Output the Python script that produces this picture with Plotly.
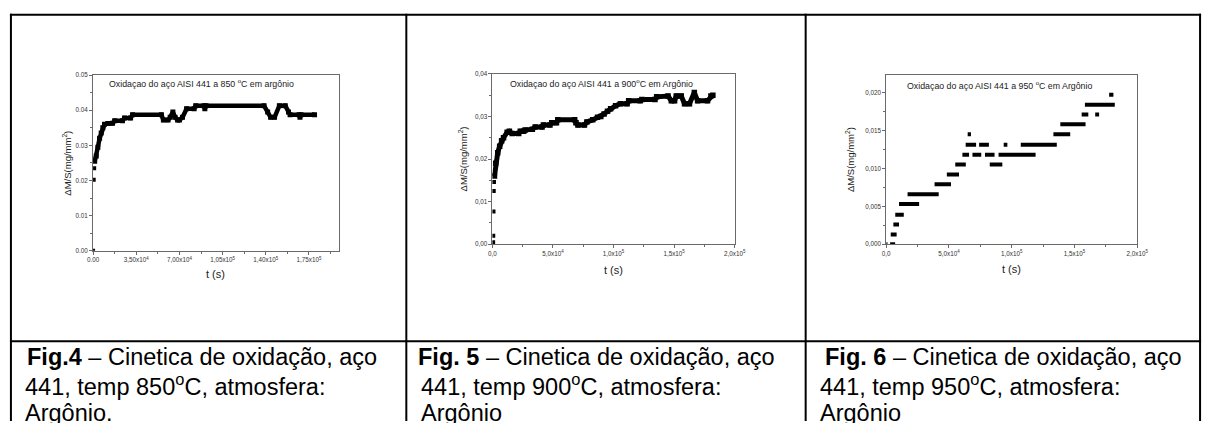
import plotly.graph_objects as go

W, H = 1216, 423

# ---------------- data ----------------
# Fig.4  850 C
t1_start = [0, 500, 900]
v1_start = [0.0, 0.0202, 0.0235]
t1 = [1300, 2600, 3900, 5300, 6600, 7900, 9300, 12000, 15800, 17500, 23800, 25500, 30400,
      32000, 55400, 57000, 60800, 62500, 64700, 66500, 68500, 70000, 72500, 75800, 81900,
      83200, 90000, 90600, 91500, 138600, 141500, 143900, 147100, 151000, 155800, 158400,
      159700, 167000, 167700, 168500, 179500]
v1 = [0.0255, 0.027, 0.0295, 0.032, 0.0335, 0.035, 0.036, 0.0362, 0.0363, 0.037, 0.037, 0.0378, 0.0378,
      0.0387, 0.0387, 0.0372, 0.0372, 0.038, 0.0395, 0.038, 0.0372, 0.0372, 0.038, 0.0404, 0.0404,
      0.0413, 0.0413, 0.0404, 0.0413, 0.0413, 0.0395, 0.038, 0.038, 0.0413, 0.0413, 0.0395,
      0.0387, 0.0387, 0.038, 0.0387, 0.0387]

# Fig.5  900 C
t2_start = [600, 700, 900, 1100, 1300]
v2_start = [0.0005, 0.002, 0.0077, 0.0125, 0.0146]
t2 = [1700, 2700, 4400, 6000, 7600, 9200, 12200, 14000, 16300, 21700, 23000, 25800, 27000, 33000,
      35300, 41000, 42100, 47500, 49000, 52900, 54000, 67900, 69000, 70600, 76000, 78000, 82800,
      86800, 89500, 92200, 95000, 97600, 101700, 105700, 111200, 112500, 122000, 123400, 134200,
      135600, 145000, 147700, 150400, 151800, 155900, 158600, 162700, 166700, 169400, 177600,
      180400, 182000]
v2 = [0.016, 0.019, 0.0215, 0.023, 0.0243, 0.025, 0.0263, 0.0265, 0.026, 0.026, 0.0265, 0.0265, 0.0268, 0.027,
      0.0275, 0.0275, 0.028, 0.028, 0.0285, 0.0285, 0.0292, 0.0292, 0.0285, 0.028, 0.028, 0.0287, 0.0292,
      0.0298, 0.03, 0.0306, 0.0312, 0.0318, 0.0325, 0.033, 0.033, 0.0337, 0.0337, 0.034, 0.034,
      0.0346, 0.0348, 0.0337, 0.0337, 0.0348, 0.0348, 0.033, 0.033, 0.0356, 0.0337, 0.0337,
      0.0348, 0.035]

# Fig.6  950 C  (runs of equal readings: start time, end time, level)
t3_from = [0, 3100, 3600, 5700, 7200, 10200, 17000, 38500, 48300, 55000, 60700, 63300, 64900,
           68700, 74000, 78700, 82500, 89500, 93600, 107200, 133200, 138700, 155700, 158300,
           166500, 177600]
t3_to = [1000, 7100, 8300, 10200, 14000, 26200, 41800, 51600, 58000, 63400, 66000, 71600, 67500,
         75700, 81800, 86300, 92500, 119000, 96500, 135900, 146600, 158800, 161000, 182100,
         169600, 181000]
v3 = [0.0, 0.0, 0.0013, 0.0026, 0.0039, 0.0053, 0.0066, 0.0079, 0.0092, 0.0105, 0.0118, 0.0131, 0.0145,
      0.0118, 0.0131, 0.0118, 0.0105, 0.0118, 0.0131, 0.0131, 0.0145, 0.0158, 0.0171, 0.0184,
      0.0171, 0.0197]

# tick labels
x1_ticks = [0, 35000, 70000, 105000, 140000, 175000]
x1_text = ["0.00", "3,50x10<sup>4</sup>", "7,00x10<sup>4</sup>", "1,05x10<sup>5</sup>",
           "1,40x10<sup>5</sup>", "1,75x10<sup>5</sup>"]
y1_ticks = [0.0, 0.01, 0.02, 0.03, 0.04, 0.05]
y1_text = ["0.00", "0.01", "0.02", "0.03", "0.04", "0.05"]
x23_ticks = [0, 50000, 100000, 150000, 200000]
x23_text = ["0,0", "5,0x10<sup>4</sup>", "1,0x10<sup>5</sup>", "1,5x10<sup>5</sup>", "2,0x10<sup>5</sup>"]
y2_ticks = [0.0, 0.01, 0.02, 0.03, 0.04]
y2_text = ["0,00", "0,01", "0,02", "0,03", "0,04"]
y3_ticks = [0.0, 0.005, 0.010, 0.015, 0.020]
y3_text = ["0,000", "0,005", "0,010", "0,015", "0,020"]

titles = ["Oxidaçao do aço AISI 441 a 850 <sup>o</sup>C em argônio",
          "Oxidaçao do aço AISI 441 a 900<sup>o</sup>C em Argônio",
          "Oxidaçao do aço AISI 441 a 950 <sup>o</sup>C em Argônio"]
ytitle = "ΔM/S(mg/mm<sup>2</sup>)"
xtitle = "t (s)"
captions = [
    ["<b>Fig.4</b> – Cinetica de oxidação, aço", "441, temp 850<sup>o</sup>C, atmosfera:", "Argônio."],
    ["<b>Fig. 5</b> – Cinetica de oxidação, aço", "441, temp 900<sup>o</sup>C, atmosfera:", "Argônio"],
    ["<b>Fig. 6</b> – Cinetica de oxidação, aço", "441, temp 950<sup>o</sup>C, atmosfera:", "Argônio"],
]

# ---------------- layout helpers ----------------
def px(x):
    return x / W

def py(y):
    return 1 - y / H

FONT = "Liberation Sans, Arial, sans-serif"
AX = "#6a6a6a"

fig = go.Figure()

fig.add_trace(go.Scatter(x=t1_start, y=v1_start, mode="markers", xaxis="x", yaxis="y",
                         marker=dict(symbol="square", size=4, color="black")))
fig.add_trace(go.Scatter(x=t1, y=v1, mode="lines+markers", xaxis="x", yaxis="y",
                         line=dict(color="black", width=4.5),
                         marker=dict(symbol="square", size=5, color="black")))
fig.add_trace(go.Scatter(x=t2_start, y=v2_start, mode="markers", xaxis="x2", yaxis="y2",
                         marker=dict(symbol="square", size=4, color="black")))
fig.add_trace(go.Scatter(x=t2, y=v2, mode="lines+markers", xaxis="x2", yaxis="y2",
                         line=dict(color="black", width=5),
                         marker=dict(symbol="square", size=5.5, color="black")))
xs, ys = [], []
for a, b, v in zip(t3_from, t3_to, v3):
    xs += [a, b, None]
    ys += [v, v, None]
fig.add_trace(go.Scatter(x=xs, y=ys, mode="lines", xaxis="x3", yaxis="y3",
                         line=dict(color="black", width=4), connectgaps=False))

boxes = [
    (88.3, 337.3, 72.3, 251.0),
    (493.3, 739.0, 71.0, 244.3),
    (892.7, 1147.3, 71.7, 244.3),
]

def axis_common(ticks, text, rng, minor_dtick):
    return dict(range=rng, tickmode="array", tickvals=ticks, ticktext=text,
                showline=True, mirror=True, linecolor=AX, linewidth=1,
                ticks="outside", ticklen=3, tickcolor=AX, tickwidth=1,
                minor=dict(tickmode="linear", tick0=0, dtick=minor_dtick, ticks="outside",
                           ticklen=2, tickcolor=AX),
                showgrid=False, zeroline=False,
                tickfont=dict(family=FONT, size=6.3, color="#333"))

def xaxis_cfg(i, ticks, text, rng, minor_dtick):
    l, r, t, b = boxes[i]
    d = axis_common(ticks, text, rng, minor_dtick)
    d.update(domain=[px(l), px(r)], anchor=("y" if i == 0 else f"y{i+1}"))
    return d

def yaxis_cfg(i, ticks, text, rng, minor_dtick):
    l, r, t, b = boxes[i]
    d = axis_common(ticks, text, rng, minor_dtick)
    d.update(domain=[py(b), py(t)], anchor=("x" if i == 0 else f"x{i+1}"))
    return d

fig.update_layout(
    width=W, height=H, margin=dict(l=0, r=0, t=0, b=0),
    paper_bgcolor="white", plot_bgcolor="white", showlegend=False,
    xaxis=xaxis_cfg(0, x1_ticks, x1_text, [0, 199000], 17500),
    yaxis=yaxis_cfg(0, y1_ticks, y1_text, [0, 0.05], 0.005),
    xaxis2=xaxis_cfg(1, x23_ticks, x23_text, [0, 200000], 25000),
    yaxis2=yaxis_cfg(1, y2_ticks, y2_text, [0, 0.04], 0.005),
    xaxis3=xaxis_cfg(2, x23_ticks, x23_text, [0, 200000], 25000),
    yaxis3=yaxis_cfg(2, y3_ticks, y3_text, [0, 0.02237], 0.0025),
)

ann = []
title_pos = [(102.7, 80.7), (509.3, 80.7), (911.7, 82.3)]
ytitle_pos = [(61.7, 161.5), (463.0, 157.5), (856.7, 158.0)]
xtitle_pos = [(212.8, 275.0), (616.0, 270.0), (1020.0, 269.0)]
for i in range(3):
    x, y = title_pos[i]
    ann.append(dict(x=px(x), y=py(y), xref="paper", yref="paper", text=titles[i],
                    showarrow=False, xanchor="left", yanchor="middle",
                    font=dict(family=FONT, size=8.8, color="#222")))
    x, y = ytitle_pos[i]
    ann.append(dict(x=px(x), y=py(y), xref="paper", yref="paper", text=ytitle, textangle=-90,
                    showarrow=False, xanchor="center", yanchor="middle",
                    font=dict(family=FONT, size=9.5, color="#222")))
    x, y = xtitle_pos[i]
    ann.append(dict(x=px(x), y=py(y), xref="paper", yref="paper", text=xtitle,
                    showarrow=False, xanchor="center", yanchor="middle",
                    font=dict(family=FONT, size=11, color="#222")))

cap_x = [[19.5, 17.5, 17.5], [416.0, 419.0, 419.0], [829.0, 824.0, 824.0]]
cap_y = [358.5, 387.5, 415.5]
for i in range(3):
    for j in range(3):
        ann.append(dict(x=px(cap_x[i][j]), y=py(cap_y[j]), xref="paper", yref="paper",
                        text=captions[i][j], showarrow=False, xanchor="left", yanchor="middle",
                        font=dict(family=FONT, size=23.5, color="black")))
fig.update_layout(annotations=ann)

shapes = []
def hline(y, x0, x1):
    shapes.append(dict(type="line", xref="paper", yref="paper", x0=px(x0), x1=px(x1),
                       y0=py(y), y1=py(y), line=dict(color="black", width=2)))
def vline(x, y0, y1):
    shapes.append(dict(type="line", xref="paper", yref="paper", x0=px(x), x1=px(x),
                       y0=py(y0), y1=py(y1), line=dict(color="black", width=2)))
hline(11, 4, 1212)
hline(343, 4, 1212)
for x in [5, 406, 811, 1211]:
    vline(x, 10, 424)
fig.update_layout(shapes=shapes)

fig.write_html("out.html", config={"displayModeBar": False},
               post_script="document.body.style.margin='0px';document.body.style.overflow='hidden';")
